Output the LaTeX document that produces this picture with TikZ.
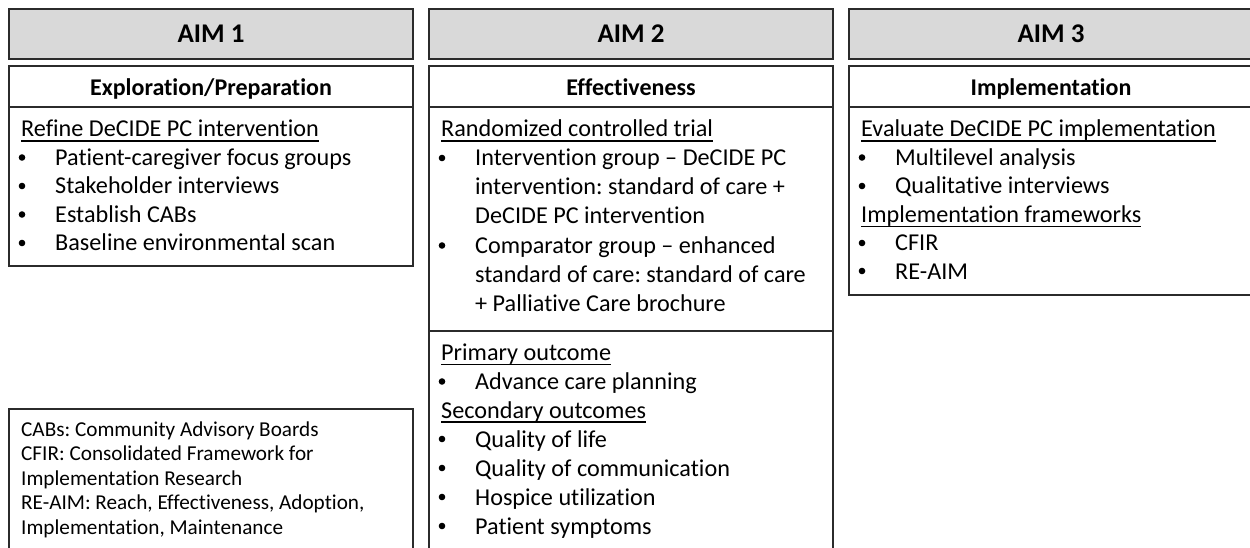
\documentclass[tikz,border=0pt]{standalone}
\usepackage{fontspec}
\setmainfont{Carlito}[Ligatures={NoCommon}]
\frenchspacing
\definecolor{edge}{HTML}{2B2B2B}
\definecolor{hdrfill}{HTML}{D9D9D9}
% underlined heading: rule a few points under the baseline, whatever the descenders
\newcommand\ulin[1]{\setbox0\hbox{#1}\rlap{\rule[-4.8pt]{\wd0}{1.4pt}}\box0}
% heading line at box left + 12
\newcommand\headline[4]{\node[bodytxt] (#1) at (#2+12,#3) {\ulin{#4}};}
% bullet line: round dot near the box edge, text at box left + 46
\newcommand\bulletline[4]{%
  \node[dot] (#1-dot) at (#2+13,#3-8) {};
  \node[bodytxt] (#1) at (#2+46,#3) {#4};}
\begin{document}
\begin{tikzpicture}[x=1pt,y=-1pt,
  aimbox/.style={draw=edge, fill=hdrfill, line width=2pt, minimum width=404pt,
    minimum height=50pt, inner sep=0pt, font=\fontsize{27}{32}\selectfont\bfseries},
  panel/.style={draw=edge, line width=2pt},
  phase/.style={inner sep=0pt, font=\fontsize{24}{28}\selectfont\bfseries},
  bodytxt/.style={anchor=base west, inner sep=0pt, font=\fontsize{24.2}{28}\selectfont},
  dot/.style={circle, fill=black, inner sep=0pt, minimum size=6.6pt},
  notetxt/.style={anchor=base west, inner sep=0pt, font=\fontsize{21.2}{25}\selectfont}]
\useasboundingbox (0,0) rectangle (1250,548);
\clip (0,0) rectangle (1250,548);

% aim headers
\node[aimbox] (aim1) at (211,34) {AIM 1};
\node[aimbox] (aim2) at (631,34) {AIM 2};
\node[aimbox] (aim3) at (1051,34) {AIM 3};

% panels below the headers
\draw[panel] (9,66) rectangle (413,266);
\draw[panel] (9,107) -- (413,107);
\draw[panel] (429,66) rectangle (833,570);
\draw[panel] (429,107) -- (833,107);
\draw[panel] (429,331) -- (833,331);
\draw[panel] (849,66) rectangle (1253,295);
\draw[panel] (849,107) -- (1253,107);
\draw[panel] (9,409) rectangle (413,570);

% phase titles
\node[phase, anchor=base] (ph1) at (211,95.5) {Exploration/Preparation};
\node[phase, anchor=base] (ph2) at (631,95.5) {Effectiveness};
\node[phase, anchor=base] (ph3) at (1051,95.5) {Implementation};

% aim 1 content
\headline{r1}{9}{137}{Refine DeCIDE PC intervention}
\bulletline{r1a}{9}{165.5}{Patient-caregiver focus groups}
\bulletline{r1b}{9}{194}{Stakeholder interviews}
\bulletline{r1c}{9}{222.5}{Establish CABs}
\bulletline{r1d}{9}{251}{Baseline environmental scan}

% aim 2 content
\headline{r2}{429}{137}{Randomized controlled trial}
\bulletline{r2a}{429}{166}{Intervention group – DeCIDE PC}
\node[bodytxt] (r2a2) at (475,195) {intervention: standard of care +};
\node[bodytxt] (r2a3) at (475,224) {DeCIDE PC intervention};
\bulletline{r2b}{429}{253.5}{Comparator group – enhanced}
\node[bodytxt] (r2b2) at (475,282.5) {standard of care: standard of care};
\node[bodytxt] (r2b3) at (475,311.5) {+ Palliative Care brochure};

\headline{r2p}{429}{360.5}{Primary outcome}
\bulletline{r2pa}{429}{389.5}{Advance care planning}
\headline{r2s}{429}{418}{Secondary outcomes}
\bulletline{r2sa}{429}{447}{Quality of life}
\bulletline{r2sb}{429}{476}{Quality of communication}
\bulletline{r2sc}{429}{505}{Hospice utilization}
\bulletline{r2sd}{429}{534}{Patient symptoms}

% aim 3 content
\headline{r3}{849}{137}{Evaluate DeCIDE PC implementation}
\bulletline{r3a}{849}{165.5}{Multilevel analysis}
\bulletline{r3b}{849}{194}{Qualitative interviews}
\headline{r3f}{849}{222.5}{Implementation frameworks}
\bulletline{r3fa}{849}{251}{CFIR}
\bulletline{r3fb}{849}{279}{RE-AIM}

% abbreviations
\node[notetxt] (n1) at (21,436) {CABs: Community Advisory Boards};
\node[notetxt] (n2) at (21,460.5) {CFIR: Consolidated Framework for};
\node[notetxt] (n3) at (21,485) {Implementation Research};
\node[notetxt] (n4) at (21,509.5) {RE-AIM: Reach, Effectiveness, Adoption,};
\node[notetxt] (n5) at (21,534) {Implementation, Maintenance};
\end{tikzpicture}
\end{document}
